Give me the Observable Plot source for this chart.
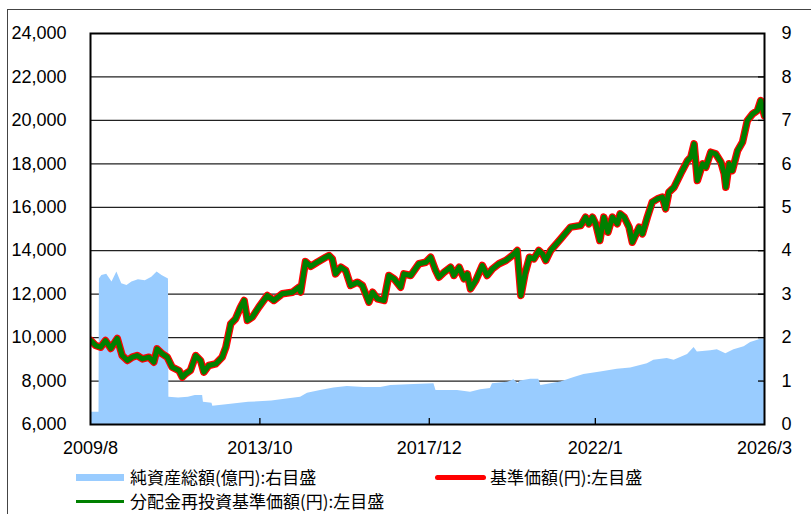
<!DOCTYPE html>
<html><head><meta charset="utf-8">
<script src="https://cdn.jsdelivr.net/npm/d3@7"></script>
<script src="https://cdn.jsdelivr.net/npm/@observablehq/plot@0.6"></script>
<style>
body{margin:0;background:#fff;overflow:hidden;}
#wrap{position:relative;width:811px;height:514px;overflow:hidden;}
#border{position:absolute;left:7px;top:9px;width:900px;height:600px;border:1px solid #444;}
#chart{position:absolute;left:0;top:0;}
.lg{position:absolute;font-family:"Noto Sans CJK JP",sans-serif;font-size:17px;line-height:20px;color:#000;white-space:nowrap;}
.sw{position:absolute;}
</style></head><body>
<div id="wrap">
<div id="border"></div>
<div id="chart"></div>
<div class="sw" style="left:76px;top:474px;width:48px;height:7px;background:#99CCFF"></div>
<div class="lg" id="lg0" style="left:130px;top:467px"></div>
<div class="sw" style="left:435px;top:475px;width:51px;height:5px;border-radius:3px;background:#FF0000"></div>
<div class="lg" id="lg1" style="left:490px;top:467px"></div>
<div class="sw" style="left:76px;top:500px;width:48px;height:2.5px;background:#008000"></div>
<div class="lg" id="lg2" style="left:130px;top:491px"></div>
</div>
<script>
// ---- data ----
const seriesNames = ["純資産総額(億円):右目盛", "基準価額(円):左目盛", "分配金再投資基準価額(円):左目盛"];
const xTickLabels = ["2009/8", "2013/10", "2017/12", "2022/1", "2026/3"];
const leftTicks = [6000, 8000, 10000, 12000, 14000, 16000, 18000, 20000, 22000, 24000];
const rightTicks = [0, 1, 2, 3, 4, 5, 6, 7, 8, 9];

// dates as decimal years
const navT = [2009.59, 2009.71, 2009.83, 2009.95, 2010.08, 2010.24, 2010.36, 2010.49, 2010.61, 2010.73, 2010.86, 2011.02, 2011.14, 2011.22, 2011.35, 2011.47, 2011.59, 2011.76, 2011.84, 2011.92, 2012.04, 2012.17, 2012.29, 2012.37, 2012.49, 2012.66, 2012.82, 2012.91, 2013.03, 2013.15, 2013.27, 2013.36, 2013.44, 2013.56, 2013.72, 2013.93, 2014.09, 2014.30, 2014.55, 2014.71, 2014.75, 2014.87, 2015.00, 2015.16, 2015.37, 2015.45, 2015.53, 2015.61, 2015.74, 2015.86, 2015.98, 2016.15, 2016.27, 2016.43, 2016.52, 2016.64, 2016.80, 2016.92, 2017.05, 2017.21, 2017.29, 2017.46, 2017.66, 2017.83, 2017.95, 2018.07, 2018.15, 2018.28, 2018.44, 2018.52, 2018.65, 2018.77, 2018.85, 2018.93, 2019.06, 2019.22, 2019.34, 2019.47, 2019.63, 2019.80, 2019.96, 2020.08, 2020.17, 2020.27, 2020.38, 2020.49, 2020.61, 2020.70, 2020.78, 2020.90, 2021.15, 2021.39, 2021.64, 2021.76, 2021.84, 2021.93, 2022.01, 2022.11, 2022.21, 2022.31, 2022.42, 2022.54, 2022.61, 2022.71, 2022.83, 2022.91, 2023.08, 2023.16, 2023.28, 2023.40, 2023.53, 2023.65, 2023.73, 2023.81, 2023.94, 2024.10, 2024.27, 2024.35, 2024.43, 2024.51, 2024.64, 2024.72, 2024.84, 2024.96, 2025.09, 2025.17, 2025.21, 2025.29, 2025.37, 2025.50, 2025.62, 2025.74, 2025.87, 2025.99, 2026.07, 2026.14, 2026.16];
const navValues = [9866, 9635, 9560, 9866, 9500, 9960, 9175, 8945, 9100, 9175, 9020, 9100, 8870, 9480, 9250, 9100, 8640, 8485, 8180, 8330, 8485, 9175, 8945, 8410, 8715, 8790, 9100, 9560, 10635, 10865, 11400, 11710, 10790, 10940, 11400, 11940, 11710, 12020, 12090, 12320, 12090, 13500, 13280, 13470, 13700, 13780, 13625, 12935, 13240, 13090, 12400, 12550, 12400, 11630, 12090, 11785, 11710, 12860, 12705, 12320, 12935, 12860, 13400, 13470, 13700, 13090, 12780, 13010, 13240, 12860, 13240, 12705, 12935, 12245, 12630, 13320, 12860, 13165, 13400, 13550, 13780, 14010, 11940, 12935, 13700, 13625, 14010, 13860, 13550, 14010, 14550, 15085, 15160, 15545, 15240, 15545, 15240, 14470, 15545, 14850, 15545, 15240, 15700, 15545, 15085, 14390, 15085, 14780, 15545, 16235, 16390, 16465, 15930, 16695, 16925, 17540, 18150, 18305, 18920, 17230, 18000, 17845, 18535, 18460, 18075, 17540, 16925, 18000, 17690, 18610, 18995, 19995, 20300, 20455, 20915, 20375, 20220];
// reinvested NAV coincides with NAV (no distributions)
const reinvValues = navValues;

const assetT = [2009.584, 2009.79, 2009.80, 2009.86, 2009.98, 2010.11, 2010.23, 2010.35, 2010.48, 2010.60, 2010.76, 2010.93, 2011.09, 2011.22, 2011.34, 2011.50, 2011.51, 2011.75, 2011.99, 2012.16, 2012.34, 2012.36, 2012.57, 2012.59, 2012.98, 2013.47, 2014.04, 2014.46, 2014.75, 2014.92, 2015.24, 2015.57, 2015.90, 2016.31, 2016.72, 2016.97, 2017.54, 2018.03, 2018.08, 2018.61, 2018.93, 2019.18, 2019.42, 2019.47, 2019.84, 2020.00, 2020.10, 2020.16, 2020.41, 2020.61, 2020.66, 2021.15, 2021.48, 2021.72, 2022.13, 2022.54, 2022.87, 2023.28, 2023.44, 2023.77, 2023.94, 2024.27, 2024.43, 2024.51, 2024.84, 2025.00, 2025.21, 2025.41, 2025.66, 2025.82, 2026.07, 2026.17];
const assetValues = [0.28, 0.28, 3.35, 3.43, 3.46, 3.28, 3.51, 3.24, 3.20, 3.28, 3.33, 3.31, 3.39, 3.51, 3.43, 3.35, 0.63, 0.61, 0.63, 0.67, 0.67, 0.51, 0.49, 0.42, 0.46, 0.51, 0.54, 0.59, 0.63, 0.72, 0.78, 0.84, 0.875, 0.85, 0.85, 0.90, 0.92, 0.94, 0.78, 0.78, 0.74, 0.80, 0.83, 0.94, 0.97, 1.03, 0.94, 1.0, 1.04, 1.04, 0.90, 0.98, 1.08, 1.15, 1.21, 1.27, 1.30, 1.40, 1.48, 1.52, 1.48, 1.61, 1.77, 1.67, 1.70, 1.72, 1.63, 1.72, 1.79, 1.89, 1.96, 1.96];

// ---- build ----
const toDate = t => { const y = Math.floor(t); const a = Date.UTC(y,0,1), b = Date.UTC(y+1,0,1); return new Date(a + (t-y)*(b-a)); };
const parseTick = s => { const [y,m] = s.split("/").map(Number); return new Date(Date.UTC(y, m-1, 1)); };
const xTicks = xTickLabels.map(parseTick);
const navRows = navT.map((t,i) => ({date: toDate(t), nav: navValues[i], reinv: reinvValues[i]}));
// right axis (0–9) shares gridlines with left axis (6000–24000)
const rightToLeft = v => leftTicks[0] + v * (leftTicks[1]-leftTicks[0]) / (rightTicks[1]-rightTicks[0]);
const assetRows = assetT.map((t,i) => ({date: toDate(t), y: rightToLeft(assetValues[i])}));

const W = 811, H = 466, mT = 33, mB = 42, mL = 90, mR = 47;
const chart = Plot.plot({
  width: W, height: H, marginTop: mT, marginBottom: mB, marginLeft: mL, marginRight: mR,
  style: {fontFamily: "'Liberation Sans', Arial, sans-serif", fontSize: "18px", color: "#000", background: "transparent", overflow: "visible"},
  x: {type: "utc", domain: [xTicks[0], xTicks[xTicks.length-1]], label: null},
  y: {domain: [leftTicks[0], leftTicks[leftTicks.length-1]], label: null},
  marks: [
    Plot.gridY(leftTicks.slice(1, -1), {stroke: "#222", strokeOpacity: 1, strokeWidth: 1.3}),
    Plot.areaY(assetRows, {x: "date", y1: leftTicks[0], y2: "y", fill: "#99CCFF", clip: true}),
    Plot.lineY(navRows, {x: "date", y: "nav", stroke: "#FF0000", strokeWidth: 7.5, clip: true}),
    Plot.lineY(navRows, {x: "date", y: "reinv", stroke: "#008000", strokeWidth: 5, clip: true}),
    Plot.ruleY(leftTicks.slice(1, -1), {insetLeft: (W-mL-mR) - 6, stroke: "#000", strokeWidth: 1.3}),
    Plot.ruleX(xTicks.slice(1, -1), {insetTop: (H-mT-mB) - 6, stroke: "#000", strokeWidth: 1.3}),
    Plot.frame({stroke: "#000", strokeWidth: 2}),
    Plot.axisY(leftTicks, {anchor: "left", tickSize: 0, tickPadding: 24, tickFormat: d3.format(","), label: null, fill: "#000"}),
    Plot.axisY(leftTicks, {anchor: "right", tickSize: 0, tickPadding: 17, tickFormat: (d, i) => String(rightTicks[i]), label: null, fill: "#000"}),
    Plot.axisX(xTicks, {anchor: "bottom", tickSize: 0, tickPadding: 17, tickFormat: (d, i) => xTickLabels[i], label: null, fill: "#000"})
  ]
});
document.getElementById("chart").appendChild(chart);
document.getElementById("lg0").textContent = seriesNames[0];
document.getElementById("lg1").textContent = seriesNames[1];
document.getElementById("lg2").textContent = seriesNames[2];
</script>
</body></html>
